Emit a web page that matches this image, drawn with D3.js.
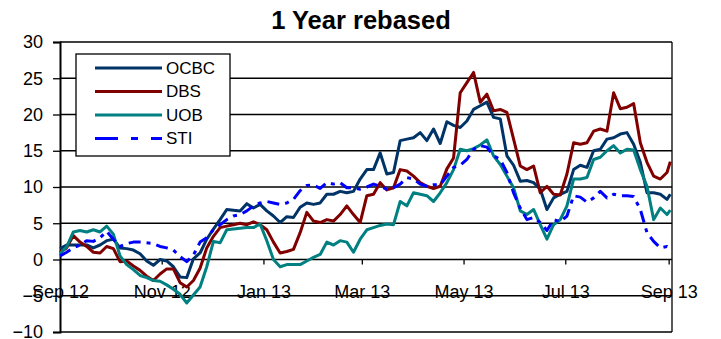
<!DOCTYPE html>
<html lang="en">

<head>
   <meta charset="UTF-8">
   <title>1 Year rebased</title>
   <script src="https://d3js.org/d3.v7.min.js"></script>
   <style>
      body {
         margin: 0;
         background: #fff;
      }

      text {
         font-family: 'Liberation Sans', Arial, sans-serif;
         fill: #000;
      }
   </style>
</head>

<body>
   <script>
      // one point every 4 days, Sep 2012 -> Sep 2013
      const dates = [
         '2012-09-01', '2012-09-05', '2012-09-09', '2012-09-13', '2012-09-17', '2012-09-21', '2012-09-25', '2012-09-29',
         '2012-10-03', '2012-10-07', '2012-10-11', '2012-10-15', '2012-10-19', '2012-10-23', '2012-10-27', '2012-10-31',
         '2012-11-04', '2012-11-08', '2012-11-12', '2012-11-16', '2012-11-20', '2012-11-24', '2012-11-28', '2012-12-02',
         '2012-12-06', '2012-12-10', '2012-12-14', '2012-12-18', '2012-12-22', '2012-12-26', '2012-12-30', '2013-01-03',
         '2013-01-07', '2013-01-11', '2013-01-15', '2013-01-19', '2013-01-23', '2013-01-27', '2013-01-31', '2013-02-04',
         '2013-02-08', '2013-02-12', '2013-02-16', '2013-02-20', '2013-02-24', '2013-02-28', '2013-03-04', '2013-03-08',
         '2013-03-12', '2013-03-16', '2013-03-20', '2013-03-24', '2013-03-28', '2013-04-01', '2013-04-05', '2013-04-09',
         '2013-04-13', '2013-04-17', '2013-04-21', '2013-04-25', '2013-04-29', '2013-05-03', '2013-05-07', '2013-05-11',
         '2013-05-15', '2013-05-19', '2013-05-23', '2013-05-27', '2013-05-31', '2013-06-04', '2013-06-08', '2013-06-12',
         '2013-06-16', '2013-06-20', '2013-06-24', '2013-06-28', '2013-07-02', '2013-07-06', '2013-07-10', '2013-07-14',
         '2013-07-18', '2013-07-22', '2013-07-26', '2013-07-30', '2013-08-03', '2013-08-07', '2013-08-11', '2013-08-15',
         '2013-08-19', '2013-08-23', '2013-08-27', '2013-08-31', '2013-09-02'
      ];

      const ocbc = [
         1.5, 2.0, 2.0, 2.0, 2.0, 1.6, 2.0, 2.6, 2.8, 1.6, 1.5, 1.3, 0.8, -0.2, -0.8, 0.0,
         -0.2, -1.0, -2.4, -2.5, 0.1, 0.9, 2.8, 4.2, 5.5, 6.9, 6.8, 6.7, 7.7, 7.1, 7.6, 6.7,
         6.0, 5.1, 5.9, 5.8, 7.2, 7.8, 7.6, 7.8, 9.0, 9.0, 9.4, 9.2, 9.4, 11.1, 12.4, 12.4,
         14.7, 11.8, 12.0, 16.4, 16.6, 16.8, 17.5, 16.4, 18.0, 16.0, 19.0, 18.5, 18.2, 19.1, 20.7, 21.2,
         21.7, 19.6, 19.4, 14.3, 13.0, 10.8, 10.9, 10.6, 9.7, 6.9, 8.5, 9.0, 9.4, 12.4, 13.0, 12.7,
         15.0, 15.2, 16.6, 16.8, 17.3, 17.5, 15.9, 13.4, 9.2, 9.2, 9.0, 8.3, 9.0
      ];

      const dbs = [
         1.0, 1.6, 3.3, 2.4, 1.8, 1.0, 0.9, 1.8, 1.5, -0.3, -0.2, -0.9, -1.5, -2.3, -2.9, -2.0,
         -1.3, -1.3, -3.2, -3.8, -2.9, -1.2, 1.6, 3.2, 4.4, 4.6, 4.8, 5.0, 4.8, 5.2, 4.8, 4.1,
         2.4, 0.9, 1.1, 1.4, 3.7, 6.5, 5.3, 5.1, 5.5, 5.3, 6.2, 7.4, 6.2, 5.1, 8.8, 9.0,
         10.6, 9.6, 9.9, 12.4, 12.2, 11.5, 10.6, 10.1, 9.8, 10.1, 12.5, 14.0, 23.0, 24.4, 25.8, 21.7,
         22.8, 20.5, 20.7, 20.3, 16.6, 12.9, 12.4, 12.9, 9.2, 10.1, 9.0, 8.9, 11.8, 16.1, 15.9, 16.1,
         17.7, 18.0, 17.7, 23.0, 20.8, 21.0, 21.5, 16.1, 13.4, 11.5, 11.1, 12.0, 13.5
      ];

      const uob = [
         0.8, 1.75, 3.8, 4.0, 3.8, 4.1, 3.8, 4.6, 3.5, 0.5, -0.7, -1.4, -2.2, -2.5, -2.9, -3.0,
         -3.5, -4.1, -4.8, -6.0, -4.9, -3.8, -1.0, 2.5, 2.3, 4.1, 4.2, 4.3, 4.4, 4.4, 4.9, 2.6,
         0.0, -1.0, -0.7, -0.7, -0.7, -0.2, 0.3, 0.7, 2.4, 2.0, 2.6, 2.4, 1.0, 2.8, 4.1, 4.4,
         4.7, 4.9, 4.8, 8.0, 7.4, 9.2, 9.0, 8.8, 8.0, 9.2, 10.6, 12.4, 15.2, 15.0, 15.3, 15.8,
         16.5, 14.3, 13.1, 11.5, 9.9, 6.7, 6.2, 6.9, 4.8, 2.8, 4.8, 5.5, 7.4, 11.1, 11.1, 11.3,
         13.8, 14.1, 15.0, 15.7, 14.7, 15.2, 15.1, 12.4, 10.1, 5.5, 7.1, 6.2, 6.8
      ];

      const sti = [
         0.5, 1.0, 1.6, 2.0, 2.6, 2.5, 3.0, 3.9, 2.8, 1.8, 2.2, 2.4, 2.4, 2.3, 2.2, 1.8,
         1.6, 1.3, 0.4, -0.3, 0.6, 2.4, 3.0, 4.1, 4.8, 5.5, 6.0, 6.2, 6.7, 7.4, 7.8, 8.0,
         7.8, 7.6, 7.8, 8.3, 9.5, 10.2, 10.3, 9.8, 10.6, 10.4, 10.6, 9.9, 9.9, 9.7, 10.0, 10.4,
         10.1, 9.7, 9.9, 10.4, 11.3, 11.1, 10.4, 10.1, 10.3, 10.3, 11.5, 12.7, 13.0, 13.8, 15.2, 15.7,
         15.5, 14.3, 13.8, 12.0, 9.2, 7.1, 5.5, 5.8, 5.1, 4.0, 5.5, 5.2, 6.0, 8.8, 8.6, 7.9,
         8.5, 9.4, 8.5, 9.0, 8.8, 8.8, 8.7, 6.9, 3.7, 2.5, 1.6, 1.8, 1.4
      ];

      const seriesNames = ['OCBC', 'DBS', 'UOB', 'STI'];
      const seriesColors = ['#003366', '#800000', '#008080', '#0000ff'];
      const yTicks = [-10, -5, 0, 5, 10, 15, 20, 25, 30];
      const xTicks = ['2012-09-01', '2012-11-01', '2013-01-01', '2013-03-01', '2013-05-01', '2013-07-01', '2013-09-01'];

      const width = 721;
      const height = 339;
      const plot = { left: 60, right: 672, top: 42, bottom: 332 };

      const parse = d3.timeParse('%Y-%m-%d');
      const allSeries = [ocbc, dbs, uob, sti].map((vals, i) => ({
         name: seriesNames[i],
         color: seriesColors[i],
         points: vals.map((v, j) => ({ date: parse(dates[j]), value: v }))
      }));

      const svg = d3.select('body').append('svg')
         .attr('width', width)
         .attr('height', height);

      const x = d3.scaleTime()
         .domain([parse('2012-09-01'), parse('2013-09-03')])
         .range([plot.left, plot.right]);

      const y = d3.scaleLinear()
         .domain([-10, 30])
         .range([plot.bottom, plot.top]);

      // title
      svg.append('text')
         .attr('x', 361)
         .attr('y', 29)
         .attr('text-anchor', 'middle')
         .attr('font-size', 25.5)
         .attr('font-weight', 'bold')
         .text('1 Year rebased');

      // horizontal gridlines
      svg.append('g')
         .selectAll('line')
         .data(yTicks)
         .join('line')
         .attr('x1', plot.left)
         .attr('x2', plot.right)
         .attr('y1', d => y(d))
         .attr('y2', d => y(d))
         .attr('stroke', '#000')
         .attr('stroke-width', 1.3);

      // right border
      svg.append('line')
         .attr('x1', plot.right).attr('x2', plot.right)
         .attr('y1', plot.top).attr('y2', plot.bottom)
         .attr('stroke', '#000')
         .attr('stroke-width', 1.3);

      // y axis
      const yAxis = svg.append('g')
         .attr('transform', `translate(${plot.left},0)`)
         .call(d3.axisLeft(y).tickValues(yTicks).tickSize(7).tickPadding(10));
      yAxis.select('.domain').attr('stroke', '#000').attr('stroke-width', 2);
      yAxis.selectAll('.tick line').attr('stroke', '#000').attr('stroke-width', 1.3);
      yAxis.selectAll('.tick text')
         .attr('font-size', 18)
         .attr('font-family', "'Liberation Sans', Arial, sans-serif")
         .attr('fill', '#000');

      // x axis sits on the zero line
      const xAxis = svg.append('g')
         .attr('transform', `translate(0,${y(0)})`)
         .call(d3.axisBottom(x)
            .tickValues(xTicks.map(parse))
            .tickFormat(d3.timeFormat('%b %y'))
            .tickSize(5)
            .tickSizeOuter(0)
            .tickPadding(21));
      xAxis.select('.domain').remove();
      xAxis.selectAll('.tick line').attr('stroke', '#000').attr('stroke-width', 1.3);
      xAxis.selectAll('.tick text')
         .attr('font-size', 18)
         .attr('font-family', "'Liberation Sans', Arial, sans-serif")
         .attr('fill', '#000');

      // series
      const line = d3.line()
         .x(d => x(d.date))
         .y(d => y(d.value));

      svg.append('g')
         .selectAll('path')
         .data(allSeries)
         .join('path')
         .attr('d', d => line(d.points))
         .attr('fill', 'none')
         .attr('stroke', d => d.color)
         .attr('stroke-width', 3)
         .attr('stroke-linejoin', 'round')
         .attr('stroke-dasharray', d => d.name === 'STI' ? '12,6,4,6' : null);

      // legend
      const legend = svg.append('g').attr('transform', 'translate(76,54)');
      legend.append('rect')
         .attr('width', 154)
         .attr('height', 102)
         .attr('fill', '#fff')
         .attr('stroke', '#000')
         .attr('stroke-width', 1.3);

      const rows = legend.selectAll('g.row')
         .data(allSeries)
         .join('g')
         .attr('class', 'row')
         .attr('transform', (d, i) => `translate(0,${14 + i * 23.5})`);

      rows.append('line')
         .attr('x1', 19)
         .attr('x2', 86)
         .attr('stroke', d => d.color)
         .attr('stroke-width', 3)
         .attr('stroke-dasharray', d => d.name === 'STI' ? '23,13,7,13' : null);

      rows.append('text')
         .attr('x', 90)
         .attr('dy', '0.35em')
         .attr('font-size', 17)
         .text(d => d.name);

   </script>
</body>

</html>
